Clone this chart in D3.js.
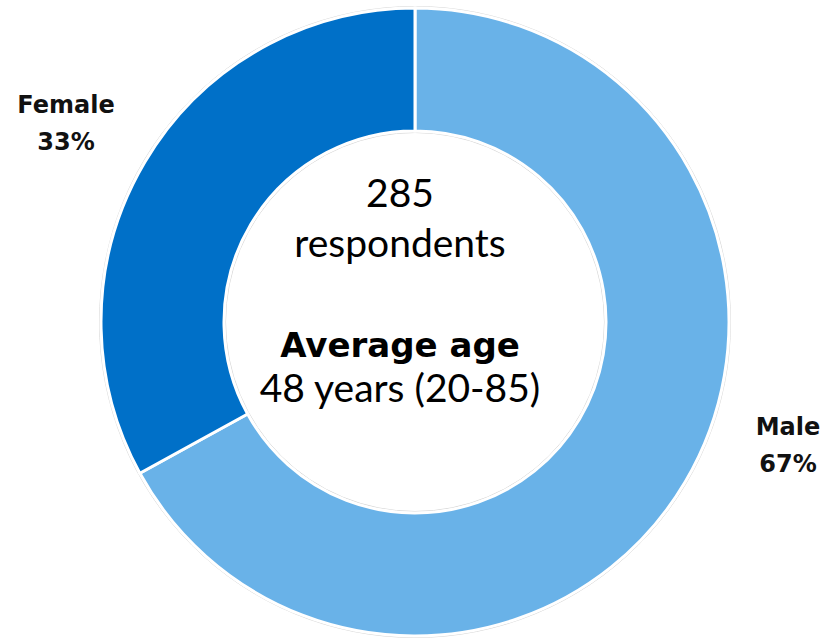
<!DOCTYPE html>
<html>
<head>
<meta charset="utf-8">
<script src="https://cdn.jsdelivr.net/npm/d3@7"></script>
<style>
  body { margin: 0; background: #fff; }
</style>
</head>
<body>
<script>
const categories = ["Male", "Female"];
const shares = [67, 33];
const colors = ["#69b2e8", "#0070c8"];
const centerLines = ["285", "respondents", "Average age", "48 years (20-85)"];

const w = 823, h = 638;
const cx = 415, cy = 322;
const outerR = 314, innerR = 191;

const svg = d3.select("body").append("svg")
  .attr("width", w)
  .attr("height", h);

const pie = d3.pie().sort(null).value(d => d.v);
const arc = d3.arc().innerRadius(innerR).outerRadius(outerR);
const data = categories.map((c, i) => ({ c: c, v: shares[i], col: colors[i] }));

const g = svg.append("g").attr("transform", "translate(" + cx + "," + cy + ")");

// faint outline ring
g.append("circle").attr("r", outerR + 1.5).attr("fill", "none").attr("stroke", "#d8d8d8").attr("stroke-width", 1);
g.append("circle").attr("r", innerR - 1.5).attr("fill", "none").attr("stroke", "#d8d8d8").attr("stroke-width", 1);

g.selectAll("path")
  .data(pie(data))
  .enter()
  .append("path")
  .attr("d", arc)
  .attr("fill", d => d.data.col)
  .attr("stroke", "#fff")
  .attr("stroke-width", 3);

// slice labels
const labelPos = [[66, 113], [788, 435]];
const labelOrder = [1, 0];
labelOrder.forEach((k, j) => {
  const d = data[k];
  const p = labelPos[j];
  const t = svg.append("text")
    .attr("x", p[0])
    .attr("y", p[1])
    .attr("text-anchor", "middle")
    .style("font-family", "'DejaVu Sans', sans-serif")
    .style("font-weight", "bold")
    .style("font-size", "24px")
    .attr("fill", "#111");
  t.append("tspan").attr("x", p[0]).text(d.c);
  t.append("tspan").attr("x", p[0]).attr("dy", 37).text(d.v + "%");
});

// center text
const cxText = 400;
const ys = [207, 257, 357, 402];
centerLines.forEach((s, i) => {
  const t = svg.append("text")
    .attr("x", cxText)
    .attr("y", ys[i])
    .attr("text-anchor", "middle")
    .style("font-family", "Lato, sans-serif")
    .style("font-size", "39px")
    .attr("fill", "#000")
    .text(s);
  if (i == 2) {
    t.style("font-family", "'DejaVu Sans', sans-serif").style("font-weight", "bold").style("font-size", "34px");
  }
});
</script>
</body>
</html>
